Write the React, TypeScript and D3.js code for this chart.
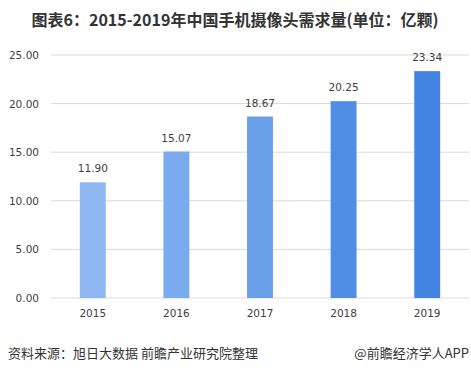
import React from "react";
import * as d3 from "d3";

const years = ["2015", "2016", "2017", "2018", "2019"];
const values = [11.9, 15.07, 18.67, 20.25, 23.34];
const barColors = ["#8fb8f2", "#7babef", "#6a9fe9", "#4f8ee4", "#4384e3"];
const yTicks = [0, 5, 10, 15, 20, 25];

const W = 471, H = 375;
const left = 51, right = 469, top = 55, bottom = 298;

export default function App() {
  const x = d3.scaleBand<string>().domain(years).range([left, right]).paddingInner(0.69).paddingOuter(0.345);
  const y = d3.scaleLinear().domain([0, 25]).range([bottom, top]);
  const font = "'Microsoft YaHei','Noto Sans CJK SC',sans-serif";
  const numFont = "Tahoma,'DejaVu Sans',sans-serif";
  return (
    <svg width={W} height={H} style={{ position: "absolute", left: 0, top: 0, background: "#fff" }}>
      <text x={235} y={26} textAnchor="middle" fontSize={16} fontWeight="bold" fill="#333" fontFamily={font}>
        图表6：2015-2019年中国手机摄像头需求量(单位：亿颗)
      </text>
      {yTicks.map((t) => (
        <g key={t}>
          <line x1={left} x2={right} y1={y(t)} y2={y(t)} stroke="#d9d9d9" strokeWidth={1} />
          <text x={39} y={y(t) + 4} textAnchor="end" fontSize={10.5} fill="#404040" fontFamily={numFont}>
            {d3.format(".2f")(t)}
          </text>
        </g>
      ))}
      {years.map((yr, i) => (
        <g key={yr}>
          <rect x={x(yr)} y={y(values[i])} width={x.bandwidth()} height={bottom - y(values[i])} fill={barColors[i]} />
          <text x={(x(yr) as number) + x.bandwidth() / 2} y={y(values[i]) - 10} textAnchor="middle" fontSize={10.5} fill="#404040" fontFamily={numFont}>
            {d3.format(".2f")(values[i])}
          </text>
          <text x={(x(yr) as number) + x.bandwidth() / 2} y={317} textAnchor="middle" fontSize={10.5} fill="#404040" fontFamily={numFont}>
            {yr}
          </text>
        </g>
      ))}
      <text x={8} y={358} fontSize={13} fill="#333" fontFamily={font}>资料来源：旭日大数据 前瞻产业研究院整理</text>
      <text x={469} y={358} textAnchor="end" fontSize={13} fill="#333" fontFamily={font}>@前瞻经济学人APP</text>
    </svg>
  );
}
